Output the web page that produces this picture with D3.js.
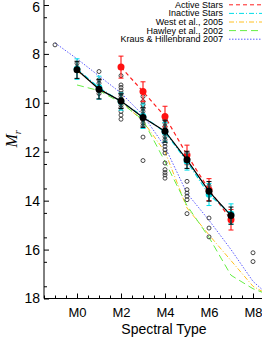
<!DOCTYPE html>
<html>
<head>
<meta charset="utf-8">
<script src="https://cdn.jsdelivr.net/npm/d3@7"></script>
<style>
  body { margin: 0; background: #fff; }
  svg { display: block; font-family: "Liberation Sans", Arial, sans-serif; }
</style>
</head>
<body>
<div id="chart"></div>
<script>
// spectral types: -1 = K7, 0 = M0 ...
var meanSpt = [0, 1, 2, 3, 4, 5, 6, 7];
var allMean = [8.65, 9.44, 9.93, 10.6, 11.16, 12.33, 13.62, 14.61];
var allErr = [0.35, 0.4, 0.3, 0.4, 0.45, 0.35, 0.4, 0.35];
var inactiveMean = [8.62, 9.38, 9.95, 10.55, 11.2, 12.4, 13.75, 14.55];
var inactiveErr = [0.42, 0.47, 0.35, 0.5, 0.4, 0.35, 0.45, 0.42];
var activeSpt = [2, 3, 4, 5, 6, 7];
var activeMean = [8.54, 9.54, 10.56, 12.13, 13.55, 14.78];
var activeErr = [0.45, 0.4, 0.42, 0.4, 0.45, 0.42];

// individual stars (open circles)
var starSpt = [-1, 0, 0,
  1, 1, 1, 1, 1, 1,
  2, 2, 2, 2, 2, 2, 2, 2, 2, 2, 2, 2, 2,
  3, 3, 3, 3, 3, 3, 3, 3, 3, 3, 3,
  4, 4, 4, 4, 4, 4, 4, 4, 4, 4, 4, 4, 4, 4, 4,
  5, 5, 5, 5, 5, 5, 5, 5,
  6, 6, 6, 6, 6,
  7, 7,
  8, 8];
var starMr = [7.63, 8.38, 8.55,
  8.72, 9.06, 9.2, 9.35, 9.5, 9.62,
  8.89, 9.27, 9.37, 9.5, 9.62, 9.74, 9.85, 10.0, 10.1, 10.2, 10.35, 10.5, 10.67,
  9.74, 9.95, 10.08, 10.22, 10.35, 10.49, 10.69, 10.83, 10.94, 11.4, 12.36,
  10.69, 10.83, 10.97, 11.1, 11.38, 11.51, 11.65, 11.78, 11.92, 12.05, 12.46, 12.73, 12.85, 12.95, 13.08,
  12.1, 12.3, 13.21, 13.55, 13.69, 13.82, 13.96, 14.53,
  13.4, 13.7, 14.71, 15.12, 15.48,
  14.5, 14.8,
  16.13, 16.49];

// published relations
var westSpt = [0, 1, 2, 3, 4, 5, 6, 7, 8, 9];
var westMr = [8.7, 9.4, 9.95, 10.75, 12.0, 14.3, 15.4, 16.45, 17.5, 18.0];
var hawleySpt = [0, 1, 2, 3, 4, 5, 6, 7, 8, 9];
var hawleyMr = [9.27, 9.5, 10.0, 10.7, 12.4, 14.2, 15.5, 17.05, 17.6, 17.95];
var krausSpt = [-1, 0, 1, 2, 3, 4, 5, 6, 7, 8, 9];
var krausMr = [7.55, 8.2, 8.9, 9.6, 10.5, 11.8, 13.7, 14.8, 16.0, 17.3, 18.1];

var xTicks = [0, 2, 4, 6, 8];
var yTicks = [6, 8, 10, 12, 14, 16, 18];
var legendNames = ["Active Stars", "Inactive Stars", "West et al., 2005", "Hawley et al., 2002", "Kraus & Hillenbrand 2007"];

var width = 262, height = 338;
var colActive = "#ff2020", colInactive = "#00dde8", colWest = "#ffc020",
    colHawley = "#66ee44", colKraus = "#5a5aff";

var svg = d3.select("#chart").append("svg")
  .attr("width", width).attr("height", height);

var x = d3.scaleLinear().domain([-1.5, 8.5]).range([44, 264]);
var y = d3.scaleLinear().domain([6, 18]).range([5, 298.5]);

// clip the plot area
svg.append("clipPath").attr("id", "plot")
  .append("rect").attr("x", 44).attr("y", 0).attr("width", width - 44).attr("height", 298.5);
var plot = svg.append("g").attr("clip-path", "url(#plot)");

function curve(xs, ys) {
  return d3.line().x(function(d, i) { return x(xs[i]); }).y(function(d) { return y(d); })(ys);
}

// reference relations
plot.append("path").attr("d", curve(krausSpt, krausMr))
  .attr("fill", "none").attr("stroke", colKraus).attr("stroke-width", 1).attr("stroke-dasharray", "1.5,1.5");
plot.append("path").attr("d", curve(westSpt, westMr))
  .attr("fill", "none").attr("stroke", colWest).attr("stroke-width", 1).attr("stroke-dasharray", "5,2,1,2");
plot.append("path").attr("d", curve(hawleySpt, hawleyMr))
  .attr("fill", "none").attr("stroke", colHawley).attr("stroke-width", 1).attr("stroke-dasharray", "7,4");

// individual stars
plot.selectAll("circle.star").data(starMr).enter().append("circle")
  .attr("class", "star")
  .attr("cx", function(d, i) { return x(starSpt[i]); })
  .attr("cy", function(d) { return y(d); })
  .attr("r", 2)
  .attr("fill", "none").attr("stroke", "#333").attr("stroke-width", 0.9);

function series(xs, ys, errs, color, lineColor, dash, r) {
  var g = plot.append("g");
  g.append("path").attr("d", curve(xs, ys))
    .attr("fill", "none").attr("stroke", lineColor).attr("stroke-width", 1.2)
    .attr("stroke-dasharray", dash);
  var bars = g.selectAll("g.bar").data(ys).enter().append("g");
  bars.append("line")
    .attr("x1", function(d, i) { return x(xs[i]); }).attr("x2", function(d, i) { return x(xs[i]); })
    .attr("y1", function(d, i) { return y(d - errs[i]); }).attr("y2", function(d, i) { return y(d + errs[i]); })
    .attr("stroke", color).attr("stroke-width", 1.1);
  [-1, 1].forEach(function(s) {
    bars.append("line")
      .attr("x1", function(d, i) { return x(xs[i]) - 2.5; }).attr("x2", function(d, i) { return x(xs[i]) + 2.5; })
      .attr("y1", function(d, i) { return y(d + s * errs[i]); }).attr("y2", function(d, i) { return y(d + s * errs[i]); })
      .attr("stroke", color).attr("stroke-width", 1);
  });
  bars.append("circle")
    .attr("cx", function(d, i) { return x(xs[i]); })
    .attr("cy", function(d) { return y(d); })
    .attr("r", r).attr("fill", color);
}

series(activeSpt, activeMean, activeErr, "#ff1010", colActive, "4,3", 3.5);
series(meanSpt, inactiveMean, inactiveErr, colInactive, colInactive, "5,2,1,2", 3.3);
series(meanSpt, allMean, allErr, "#000", "#000", null, 3.5);

// axes
var yAxis = d3.axisLeft(y).tickValues(yTicks).tickSize(-5).tickSizeOuter(0).tickPadding(4);
var yMinor = d3.axisLeft(y).tickValues(d3.range(6.5, 18, 1)).tickSize(-3).tickFormat("").tickSizeOuter(0);
var xAxis = d3.axisBottom(x).tickValues(xTicks).tickSize(-5).tickSizeOuter(0).tickPadding(9)
  .tickFormat(function(d) { return "M" + d; });
var xMinor = d3.axisBottom(x).tickValues(d3.range(-1.5, 8.6, 0.5).filter(function(v) { return v % 2 !== 0; }))
  .tickSize(-3).tickFormat("").tickSizeOuter(0);

var gy = svg.append("g").attr("transform", "translate(44,0)").call(yAxis);
svg.append("g").attr("transform", "translate(44,0)").call(yMinor).select(".domain").remove();
var gx = svg.append("g").attr("transform", "translate(0,298.5)").call(xAxis);
svg.append("g").attr("transform", "translate(0,298.5)").call(xMinor).select(".domain").remove();
gy.select(".domain").remove();
gx.select(".domain").remove();
svg.append("line").attr("x1", 44).attr("x2", 44).attr("y1", 0).attr("y2", 298.5).attr("stroke", "#000");
svg.append("line").attr("x1", 44).attr("x2", width).attr("y1", 298.5).attr("y2", 298.5).attr("stroke", "#000");
gy.selectAll("text").attr("font-size", 14).attr("font-family", "Liberation Sans, Arial, sans-serif").attr("fill", "#000")
  .attr("dy", function(d) { return d === 6 ? "0.45em" : "0.32em"; });
gx.selectAll("text").attr("font-size", 13).attr("font-family", "Liberation Sans, Arial, sans-serif").attr("fill", "#000");

// axis titles
svg.append("text").attr("x", 164).attr("y", 334).attr("text-anchor", "middle")
  .attr("font-size", 14).text("Spectral Type");
var yl = svg.append("text").attr("transform", "translate(17,139) rotate(-90)")
  .attr("text-anchor", "middle").attr("font-size", 16)
  .attr("font-family", "Liberation Serif, Times New Roman, serif").attr("font-style", "italic");
yl.append("tspan").text("M");
yl.append("tspan").attr("font-size", 10).attr("dy", 4).text("r");

// legend
var legendStyles = [
  { color: colActive, dash: "4,3" },
  { color: colInactive, dash: "5,2,1,2" },
  { color: colWest, dash: "5,2,1,2" },
  { color: colHawley, dash: "7,4" },
  { color: colKraus, dash: "1.5,1.5" }
];
var leg = svg.append("g").selectAll("g").data(legendNames).enter().append("g")
  .attr("transform", function(d, i) { return "translate(0," + (4.8 + i * 8.6) + ")"; });
leg.append("text").attr("x", 223).attr("y", 3).attr("text-anchor", "end")
  .attr("font-size", 9).text(function(d) { return d; });
leg.append("line").attr("x1", 229).attr("x2", 262).attr("y1", 0).attr("y2", 0)
  .attr("stroke", function(d, i) { return legendStyles[i].color; })
  .attr("stroke-dasharray", function(d, i) { return legendStyles[i].dash; })
  .attr("stroke-width", 1);
</script>
</body>
</html>
